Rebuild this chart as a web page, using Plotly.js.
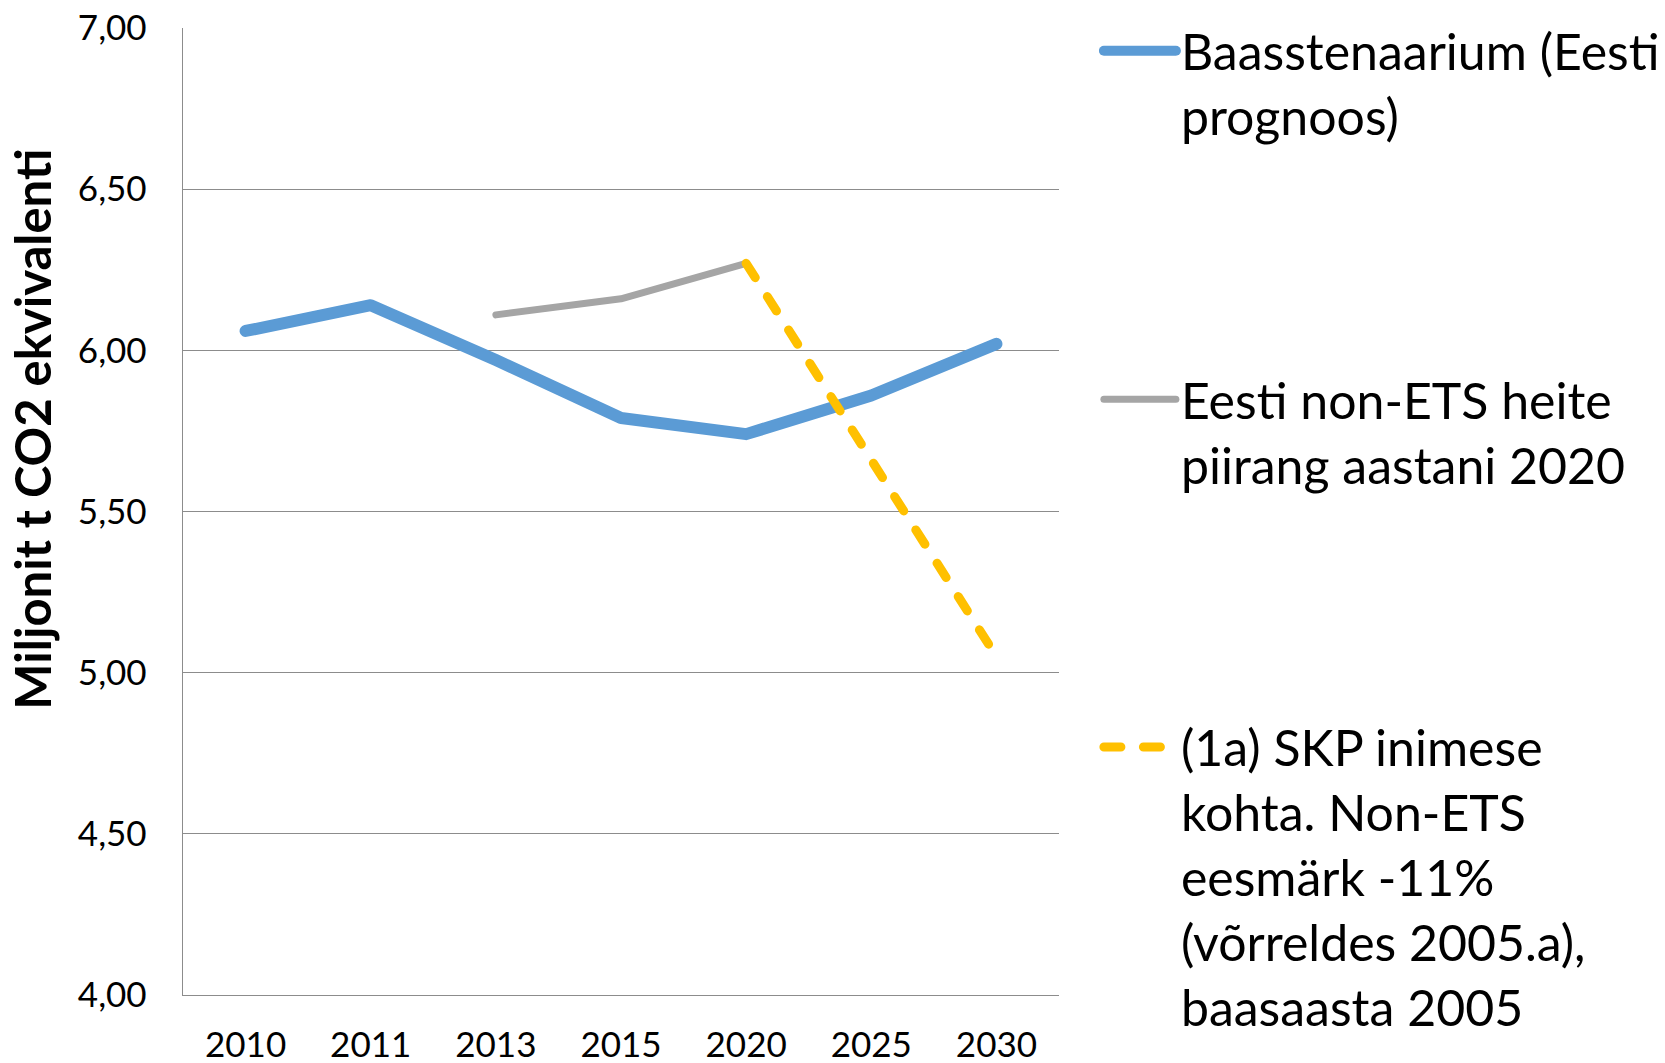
<!DOCTYPE html>
<html>
<head>
<meta charset="utf-8">
<script src="https://cdn.plot.ly/plotly-3.0.1.min.js"></script>
<style>
  html, body { margin: 0; padding: 0; background: #ffffff; }
  #chart { width: 1665px; height: 1063px; }
  .scatterlayer .js-line, .legendlines path { stroke-linecap: round !important; stroke-linejoin: round !important; }
</style>
</head>
<body>
<div id="chart"></div>
<script>
const years = ['2010', '2011', '2013', '2015', '2020', '2025', '2030'];
const baseline = [6.06, 6.14, 5.97, 5.79, 5.74, 5.86, 6.02];
const limit2020 = [null, null, 6.11, 6.16, 6.27, null, null];
const target1a = [null, null, null, null, 6.27, 5.66, 5.05];

const nameBaseline = 'Baasstenaarium (Eesti<br>prognoos)';
const nameLimit = 'Eesti non-ETS heite<br>piirang aastani 2020';
const nameTarget = '(1a) SKP inimese<br>kohta. Non-ETS<br>eesmärk -11%<br>(võrreldes 2005.a),<br>baasaasta 2005';

const FONT = 'Lato, "Open Sans", sans-serif';

const traces = [
  { x: years, y: baseline, name: nameBaseline, type: 'scatter', mode: 'lines',
    line: { color: '#5B9BD5', width: 12 }, legend: 'legend' },
  { x: years, y: limit2020, name: nameLimit, type: 'scatter', mode: 'lines',
    line: { color: '#A5A5A5', width: 7 }, legend: 'legend2' },
  { x: years, y: target1a, name: nameTarget, type: 'scatter', mode: 'lines',
    line: { color: '#FFC000', width: 9, dash: '17px,22.5px' }, legend: 'legend3' }
];

const legendCommon = {
  xref: 'container', yref: 'container', x: 0.6600, xanchor: 'left', yanchor: 'top',
  font: { family: FONT, size: 50, color: '#000' }, bgcolor: 'rgba(0,0,0,0)',
  valign: 'top', itemwidth: 72
};

const layout = {
  width: 1665, height: 1063,
  paper_bgcolor: '#ffffff', plot_bgcolor: '#ffffff',
  margin: { l: 183, r: 606, t: 28, b: 68 },
  separators: ', ',
  font: { family: FONT, color: '#000' },
  showlegend: true,
  legend: Object.assign({}, legendCommon, { y: 0.989 }),
  legend2: Object.assign({}, legendCommon, { y: 0.661 }),
  legend3: Object.assign({}, legendCommon, { y: 0.334 }),
  xaxis: {
    type: 'category', range: [-0.5, 6.5], showgrid: false, zeroline: false,
    showline: true, linecolor: '#8c8c8c', linewidth: 1.3, ticks: '', ticklabelstandoff: 19,
    tickfont: { family: FONT, size: 35, color: '#000' }
  },
  yaxis: {
    range: [4, 7], dtick: 0.5, tick0: 4, tickformat: '.2f',
    showgrid: true, gridcolor: '#8c8c8c', gridwidth: 1.3, zeroline: false,
    showline: true, linecolor: '#8c8c8c', linewidth: 1.3, ticks: '',
    ticklabelstandoff: 28,
    tickfont: { family: FONT, size: 35, color: '#000' }
  },
  annotations: [{
    text: '<b>Miljonit t CO2 ekvivalenti</b>', textangle: -90,
    xref: 'paper', yref: 'paper', x: -0.172, y: 0.585,
    xanchor: 'center', yanchor: 'middle', showarrow: false,
    font: { family: FONT, size: 49, color: '#000' }
  }]
};

Plotly.newPlot('chart', traces, layout, { displayModeBar: false, staticPlot: true });
</script>
</body>
</html>
